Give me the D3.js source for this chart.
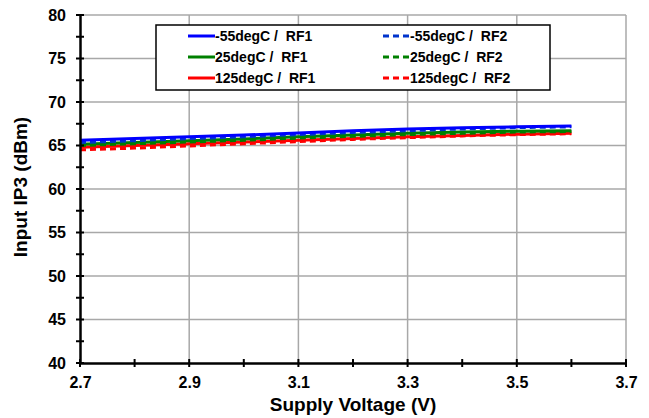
<!DOCTYPE html>
<html>
<head>
<meta charset="utf-8">
<script src="https://cdn.jsdelivr.net/npm/d3@7"></script>
<style>
body { margin: 0; background: #fff; }
text { font-family: "Liberation Sans", Arial, sans-serif; font-weight: bold; }
</style>
</head>
<body>
<svg width="649" height="418"></svg>
<script>
const width = 649;
const height = 418;
const margin = {top: 15, right: 23, bottom: 55, left: 80};

const voltage = [2.7, 2.8, 2.9, 3.0, 3.1, 3.2, 3.3, 3.4, 3.5, 3.6];
const m55RF1 = [65.6, 65.8, 66.0, 66.2, 66.45, 66.7, 66.9, 67.05, 67.15, 67.25];
const m55RF2 = [65.35, 65.55, 65.8, 66.0, 66.25, 66.5, 66.7, 66.9, 67.05, 67.15];
const p25RF1 = [65.15, 65.35, 65.55, 65.75, 66.0, 66.2, 66.4, 66.55, 66.65, 66.7];
const p25RF2 = [65.0, 65.2, 65.4, 65.6, 65.85, 66.05, 66.25, 66.4, 66.55, 66.6];
const p125RF1 = [64.8, 65.0, 65.2, 65.4, 65.6, 65.8, 66.0, 66.15, 66.3, 66.4];
const p125RF2 = [64.5, 64.7, 64.95, 65.2, 65.45, 65.7, 65.9, 66.1, 66.25, 66.35];

const xTicks = [2.7, 2.9, 3.1, 3.3, 3.5, 3.7];
const yTicks = [40, 45, 50, 55, 60, 65, 70, 75, 80];

const series = [
    {name: "-55degC /  RF1", values: m55RF1, color: "#0000ff", dash: null},
    {name: "-55degC /  RF2", values: m55RF2, color: "#0033cc", dash: "6,4"},
    {name: "25degC /  RF1", values: p25RF1, color: "#008000", dash: null},
    {name: "25degC /  RF2", values: p25RF2, color: "#008000", dash: "6,4"},
    {name: "125degC /  RF1", values: p125RF1, color: "#ff0000", dash: null},
    {name: "125degC /  RF2", values: p125RF2, color: "#ff0000", dash: "6,4"}
];

const xScale = d3.scaleLinear()
                    .domain([2.7, 3.7])
                    .range([margin.left, width - margin.right]);
const yScale = d3.scaleLinear()
                    .domain([40, 80])
                    .range([height - margin.bottom, margin.top]);

const svg = d3.select("svg");

// grid
svg.append("g")
    .selectAll("line")
    .data(xTicks.slice(1))
    .enter()
    .append("line")
        .attr("x1", d => xScale(d))
        .attr("x2", d => xScale(d))
        .attr("y1", yScale(40))
        .attr("y2", yScale(80))
        .attr("stroke", "#a8a8a8")
        .attr("stroke-width", 1.5);
svg.append("g")
    .selectAll("line")
    .data(yTicks.slice(1))
    .enter()
    .append("line")
        .attr("x1", xScale(2.7))
        .attr("x2", xScale(3.7))
        .attr("y1", d => yScale(d))
        .attr("y2", d => yScale(d))
        .attr("stroke", "#a8a8a8")
        .attr("stroke-width", 1.5);

// lines
const line = d3.line()
    .x((d, i) => xScale(voltage[i]))
    .y(d => yScale(d));

svg.append("g")
    .selectAll("path")
    .data(series.slice().reverse())
    .enter()
    .append("path")
        .attr("d", d => line(d.values))
        .attr("fill", "none")
        .attr("stroke", d => d.color)
        .attr("stroke-width", 3)
        .attr("stroke-dasharray", d => d.dash);

// axes with cross ticks
const xAxisMajor = d3.axisBottom(xScale).tickValues(xTicks).tickSize(0).tickFormat(d3.format(".1f"));
const gx = svg.append("g")
    .attr("transform", "translate(0," + yScale(40) + ")")
    .call(xAxisMajor);
gx.select(".domain").attr("stroke", "#000").attr("stroke-width", 2.5);
gx.selectAll("text").attr("y", 14).attr("dy", "0.71em").style("font-size", "16px").attr("fill", "#000");

const yAxisMajor = d3.axisLeft(yScale).tickValues(yTicks).tickSize(0);
const gy = svg.append("g")
    .attr("transform", "translate(" + xScale(2.7) + ",0)")
    .call(yAxisMajor);
gy.select(".domain").attr("stroke", "#000").attr("stroke-width", 2.5);
gy.selectAll("text").attr("x", -14).style("font-size", "16px").attr("fill", "#000");

const xTickVals = d3.range(2.7, 3.75, 0.1).map(d => +d.toFixed(1));
svg.append("g")
    .selectAll("line")
    .data(xTickVals)
    .enter()
    .append("line")
        .attr("x1", d => xScale(d))
        .attr("x2", d => xScale(d))
        .attr("y1", yScale(40) - 4)
        .attr("y2", yScale(40) + 4)
        .attr("stroke", "#000")
        .attr("stroke-width", 2);
const yTickVals = d3.range(40, 80.1, 2.5);
svg.append("g")
    .selectAll("line")
    .data(yTickVals)
    .enter()
    .append("line")
        .attr("x1", xScale(2.7) - 4)
        .attr("x2", xScale(2.7) + 4)
        .attr("y1", d => yScale(d))
        .attr("y2", d => yScale(d))
        .attr("stroke", "#000")
        .attr("stroke-width", 2);

// legend
const legend = svg.append("g");
legend.append("rect")
    .attr("x", 156)
    .attr("y", 25)
    .attr("width", 394)
    .attr("height", 65)
    .attr("fill", "#fff")
    .attr("stroke", "#000")
    .attr("stroke-width", 1.5);

const items = legend.selectAll("g.item")
    .data(series)
    .enter()
    .append("g")
        .attr("transform", (d, i) => "translate(" + (i % 2 === 0 ? 188 : 383) + "," + (36 + Math.floor(i / 2) * 21) + ")");
items.append("line")
    .attr("x1", 0)
    .attr("x2", 27)
    .attr("stroke", d => d.color)
    .attr("stroke-width", 3)
    .attr("stroke-dasharray", d => d.dash);
items.append("text")
    .attr("x", 27)
    .attr("dy", "0.35em")
    .style("font-size", "14px")
    .style("white-space", "pre")
    .text(d => d.name);

// titles
svg.append("text")
    .attr("x", (xScale(2.7) + xScale(3.7)) / 2)
    .attr("y", 411)
    .style("text-anchor", "middle")
    .style("font-size", "19px")
    .text("Supply Voltage (V)");
svg.append("text")
    .attr("transform", "rotate(-90)")
    .attr("x", -187)
    .attr("y", 27)
    .style("text-anchor", "middle")
    .style("font-size", "19px")
    .text("Input IP3 (dBm)");
</script>
</body>
</html>
